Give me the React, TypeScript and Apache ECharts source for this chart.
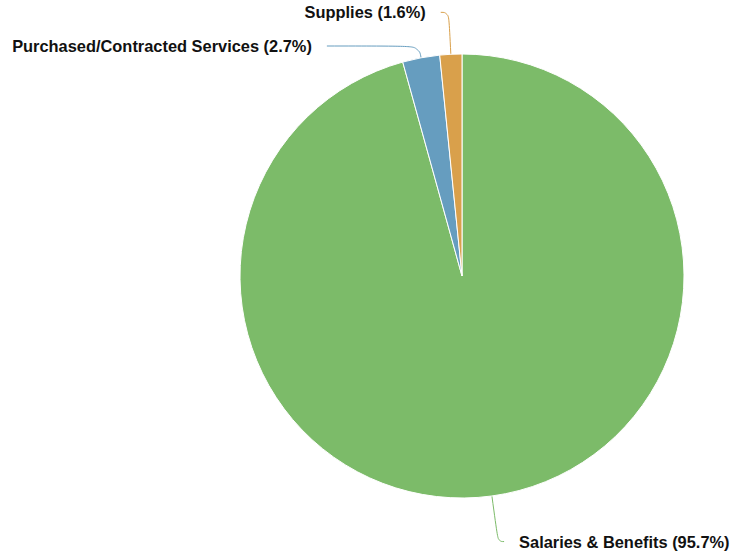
import React, { useEffect, useRef } from "react";
import * as echarts from "echarts";

const categories = ["Salaries & Benefits", "Purchased/Contracted Services", "Supplies"];
const values = [95.7, 2.7, 1.6];
const colors = ["#7cbb69", "#669dbf", "#d9a04b"];
const lineLengths = [46, 12, 42];
const lineLengths2 = [6, 92, 8];

export default function App() {
  const ref = useRef<HTMLDivElement>(null);
  useEffect(() => {
    document.body.style.margin = "0";
    const chart = echarts.init(ref.current!, null, { renderer: "svg" });
    chart.setOption({
      animation: false,
      backgroundColor: "#ffffff",
      series: [
        {
          type: "pie",
          center: [462, 276],
          radius: 222,
          startAngle: 90,
          clockwise: true,
          percentPrecision: 1,
          avoidLabelOverlap: false,
          itemStyle: { borderColor: "#ffffff", borderWidth: 1 },
          label: {
            show: true,
            position: "outside",
            formatter: "{b} ({d}%)",
            fontFamily: "Liberation Sans, Arial, sans-serif",
            fontWeight: "bold",
            fontSize: 16.4,
            color: "#111111",
            distanceToLabelLine: 15,
          },
          labelLine: { show: true, smooth: 0.5, lineStyle: { width: 1 } },
          emphasis: { disabled: true },
          data: categories.map((name, i) => ({
            name,
            value: values[i],
            itemStyle: { color: colors[i] },
            labelLine: { length: lineLengths[i], length2: lineLengths2[i], smooth: 0.5 },
          })),
        },
      ],
    });
    return () => chart.dispose();
  }, []);
  return <div ref={ref} style={{ width: 734, height: 557 }} />;
}
